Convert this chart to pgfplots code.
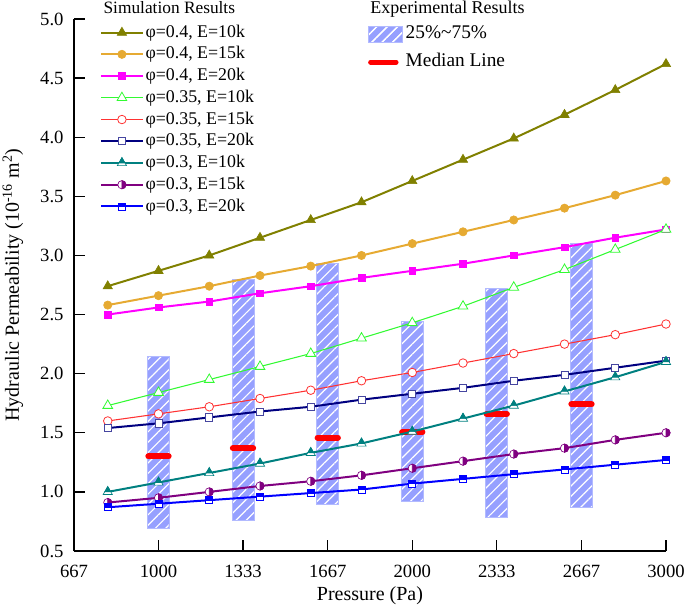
\documentclass[border=0pt]{standalone}
\usepackage{fontspec}
\setmainfont{Liberation Serif}
\usepackage{pgfplots}
\pgfplotsset{compat=1.18}
\usetikzlibrary{patterns.meta}

\definecolor{colive}{RGB}{128,128,0}
\definecolor{corange}{RGB}{230,170,50}
\definecolor{cmag}{RGB}{255,0,255}
\definecolor{cgreen}{RGB}{50,250,50}
\definecolor{cred}{RGB}{255,50,50}
\definecolor{cnavy}{RGB}{0,0,128}
\definecolor{cnavym}{RGB}{70,70,160}
\definecolor{cteal}{RGB}{0,128,128}
\definecolor{cpurple}{RGB}{128,0,128}
\definecolor{cblue}{RGB}{0,0,255}
\definecolor{barfill}{RGB}{150,160,255}
\definecolor{barborder}{RGB}{178,186,255}

\pgfdeclareplotmark{halftri}{%
  \pgfpathmoveto{\pgfqpoint{0pt}{\pgfplotmarksize}}%
  \pgfpathlineto{\pgfqpoint{-0.866\pgfplotmarksize}{-0.5\pgfplotmarksize}}%
  \pgfpathlineto{\pgfqpoint{0.866\pgfplotmarksize}{-0.5\pgfplotmarksize}}%
  \pgfpathclose
  \pgfsetfillcolor{white}\pgfusepathqfillstroke
  \pgfpathmoveto{\pgfqpoint{0pt}{\pgfplotmarksize}}%
  \pgfpathlineto{\pgfqpoint{-0.577\pgfplotmarksize}{0pt}}%
  \pgfpathlineto{\pgfqpoint{0.577\pgfplotmarksize}{0pt}}%
  \pgfpathclose
  \pgfsetfillcolor{cteal}\pgfusepathqfillstroke
}
\pgfdeclareplotmark{halfcirc}{%
  \pgfpathcircle{\pgfpointorigin}{\pgfplotmarksize}%
  \pgfsetfillcolor{white}\pgfusepathqfillstroke
  \pgfpathmoveto{\pgfqpoint{0pt}{\pgfplotmarksize}}%
  \pgfpatharc{90}{-90}{\pgfplotmarksize}%
  \pgfpathclose
  \pgfsetfillcolor{cpurple}\pgfusepathqfillstroke
}
\pgfdeclareplotmark{halfsq}{%
  \pgfpathrectangle{\pgfqpoint{-\pgfplotmarksize}{-\pgfplotmarksize}}{\pgfqpoint{2\pgfplotmarksize}{2\pgfplotmarksize}}%
  \pgfsetfillcolor{white}\pgfusepathqfillstroke
  \pgfpathrectangle{\pgfqpoint{-\pgfplotmarksize}{0pt}}{\pgfqpoint{2\pgfplotmarksize}{\pgfplotmarksize}}%
  \pgfsetfillcolor{cblue}\pgfusepathqfillstroke
}

\tikzset{barstyle/.style={draw=barborder, line width=0.6pt, fill=barfill,
  postaction={pattern={Lines[angle=45,distance=5.5pt,line width=0.9pt]}, pattern color=white}}}

\pgfplotsset{common/.style={scale only axis, width=444pt, height=399pt,
  xmin=667, xmax=3000, ymin=0.5, ymax=5, anchor=south west, at={(0pt,0pt)}}}

\begin{document}
\begin{tikzpicture}
\begin{axis}[common,
  axis lines=left, axis line style={-, line width=1.1pt},
  tick align=inside, major tick length=8pt, tick style={line width=1pt, black},
  xtick={667,1000,1333,1667,2000,2333,2667,3000},
  xticklabels={667,1000,1333,1667,2000,2333,2667,3000},
  ytick={0.5,1.0,1.5,2.0,2.5,3.0,3.5,4.0,4.5,5.0},
  yticklabels={0.5,1.0,1.5,2.0,2.5,3.0,3.5,4.0,4.5,5.0},
  tick label style={font=\fontsize{14}{16}\selectfont},
  xticklabel style={yshift=-7pt},
  yticklabel style={xshift=-4.3pt},
  legend style={at={(0.4955,0.994)}, anchor=north west, draw=none, fill=none,
    inner sep=0pt, row sep=3.5pt, font=\fontsize{14.5}{16}\selectfont,
    nodes={inner sep=2pt, text height=10pt, text depth=3.5pt}},
  legend cell align=left,
]
\addplot[barstyle, area legend,
  legend image code/.code={\draw[barstyle] (0pt,-6pt) rectangle (26pt,6pt);}]
  coordinates {(957,0.69) (1043,0.69) (1043,2.15) (957,2.15)} --cycle;
\addlegendentry{25\%\textasciitilde 75\%}
\addplot[barstyle, forget plot] coordinates {(1290,0.756) (1376,0.756) (1376,2.80) (1290,2.80)} --cycle;
\addplot[barstyle, forget plot] coordinates {(1624,0.898) (1710,0.898) (1710,2.93) (1624,2.93)} --cycle;
\addplot[barstyle, forget plot] coordinates {(1957,0.923) (2043,0.923) (2043,2.446) (1957,2.446)} --cycle;
\addplot[barstyle, forget plot] coordinates {(2290,0.788) (2376,0.788) (2376,2.719) (2290,2.719)} --cycle;
\addplot[barstyle, forget plot] coordinates {(2624,0.866) (2710,0.866) (2710,3.103) (2624,3.103)} --cycle;
\addplot[red, line width=4.5pt, line cap=round,
  legend image code/.code={\draw[red, line width=3.8pt, line cap=round] (2pt,0pt) -- (21pt,0pt);}]
  coordinates {(960,1.30) (1040,1.30)};
\addlegendentry{Median Line}
\addplot[red, line width=4.5pt, line cap=round, forget plot] coordinates {(1293,1.369) (1373,1.369)};
\addplot[red, line width=4.5pt, line cap=round, forget plot] coordinates {(1627,1.459) (1707,1.459)};
\addplot[red, line width=4.5pt, line cap=round, forget plot] coordinates {(1960,1.504) (2040,1.504)};
\addplot[red, line width=4.5pt, line cap=round, forget plot] coordinates {(2293,1.659) (2373,1.659)};
\addplot[red, line width=4.5pt, line cap=round, forget plot] coordinates {(2627,1.741) (2707,1.741)};
\end{axis}

\begin{axis}[common, hide axis,
  legend style={at={(0.0439,0.995)}, anchor=north west, draw=none, fill=none,
    inner sep=0pt, row sep=0.3pt, font=\fontsize{13.4}{15}\selectfont,
    nodes={inner sep=1.5pt, text height=10pt, text depth=3pt}},
  legend cell align=left,
  legend image code/.code={\draw[mark repeat=2,mark phase=2] plot coordinates {(0pt,0pt) (15.5pt,0pt) (31pt,0pt)};},
]
\addplot[colive, line width=1.5pt, mark=triangle*, mark size=4pt, mark options={solid, fill=colive, line width=0.5pt}]
  coordinates {(800,2.74) (1000,2.87) (1200,3.00) (1400,3.15) (1600,3.30) (1800,3.45) (2000,3.63) (2200,3.81) (2400,3.99) (2600,4.19) (2800,4.40) (3000,4.62)};
\addlegendentry{φ=0.4, E=10k}
\addplot[corange, line width=1.5pt, mark=*, mark size=3.1pt, mark options={solid, fill=corange, line width=0.5pt}]
  coordinates {(800,2.58) (1000,2.66) (1200,2.74) (1400,2.83) (1600,2.91) (1800,3.00) (2000,3.10) (2200,3.20) (2400,3.30) (2600,3.40) (2800,3.51) (3000,3.63)};
\addlegendentry{φ=0.4, E=15k}
\addplot[cmag, line width=1.5pt, mark=square*, mark size=2.5pt, mark options={solid, fill=cmag, line width=0.5pt}]
  coordinates {(800,2.50) (1000,2.56) (1200,2.61) (1400,2.68) (1600,2.74) (1800,2.81) (2000,2.87) (2200,2.93) (2400,3.00) (2600,3.07) (2800,3.15) (3000,3.22)};
\addlegendentry{φ=0.4, E=20k}
\addplot[cgreen, line width=0.8pt, mark=triangle*, mark size=4.2pt, mark options={solid, fill=white, line width=0.6pt}]
  coordinates {(800,1.73) (1000,1.84) (1200,1.95) (1400,2.06) (1600,2.17) (1800,2.30) (2000,2.43) (2200,2.57) (2400,2.73) (2600,2.88) (2800,3.05) (3000,3.22)};
\addlegendentry{φ=0.35, E=10k}
\addplot[cred, line width=0.8pt, mark=*, mark size=3.2pt, mark options={solid, fill=white, line width=0.6pt}]
  coordinates {(800,1.60) (1000,1.66) (1200,1.72) (1400,1.79) (1600,1.86) (1800,1.94) (2000,2.01) (2200,2.09) (2400,2.17) (2600,2.25) (2800,2.33) (3000,2.42)};
\addlegendentry{φ=0.35, E=15k}
\addplot[cnavy, line width=1.5pt, mark=square*, mark size=2.7pt, mark options={solid, draw=cnavym, fill=white, line width=0.6pt}]
  coordinates {(800,1.54) (1000,1.58) (1200,1.63) (1400,1.68) (1600,1.72) (1800,1.78) (2000,1.83) (2200,1.88) (2400,1.94) (2600,1.99) (2800,2.05) (3000,2.11)};
\addlegendentry{φ=0.35, E=20k}
\addplot[cteal, line width=1.5pt, mark=halftri, mark size=4pt, mark options={solid, line width=0.5pt}]
  coordinates {(800,1.00) (1000,1.08) (1200,1.16) (1400,1.24) (1600,1.33) (1800,1.41) (2000,1.51) (2200,1.62) (2400,1.73) (2600,1.85) (2800,1.97) (3000,2.10)};
\addlegendentry{φ=0.3, E=10k}
\addplot[cpurple, line width=1.5pt, mark=halfcirc, mark size=3.1pt, mark options={solid, line width=0.5pt}]
  coordinates {(800,0.91) (1000,0.95) (1200,1.00) (1400,1.05) (1600,1.09) (1800,1.14) (2000,1.20) (2200,1.26) (2400,1.32) (2600,1.37) (2800,1.44) (3000,1.50)};
\addlegendentry{φ=0.3, E=15k}
\addplot[cblue, line width=1.5pt, mark=halfsq, mark size=2.6pt, mark options={solid, line width=0.5pt}]
  coordinates {(800,0.87) (1000,0.90) (1200,0.93) (1400,0.96) (1600,0.99) (1800,1.02) (2000,1.07) (2200,1.11) (2400,1.15) (2600,1.19) (2800,1.23) (3000,1.27)};
\addlegendentry{φ=0.3, E=20k}
\end{axis}
% axis labels and legend titles (text only)
\node[rotate=90, anchor=center, inner sep=0pt, font=\fontsize{15}{17}\selectfont] at (-45.75pt,199.5pt)
  {Hydraulic Permeability (10\textsuperscript{-16} m\textsuperscript{2})};
\node[anchor=center, inner sep=0pt, font=\fontsize{15}{17}\selectfont] at (222pt,-33.75pt) {Pressure (Pa)};
\node[anchor=base west, inner sep=0pt, font=\fontsize{13}{15}\selectfont] at (22pt,403.3pt) {Simulation Results};
\node[anchor=base west, inner sep=0pt, font=\fontsize{13.5}{15}\selectfont] at (222pt,403.3pt) {Experimental Results};
\pgfresetboundingbox
\useasboundingbox (-55.5pt,-45pt) rectangle (458.25pt,413.25pt);
\end{tikzpicture}
\end{document}
